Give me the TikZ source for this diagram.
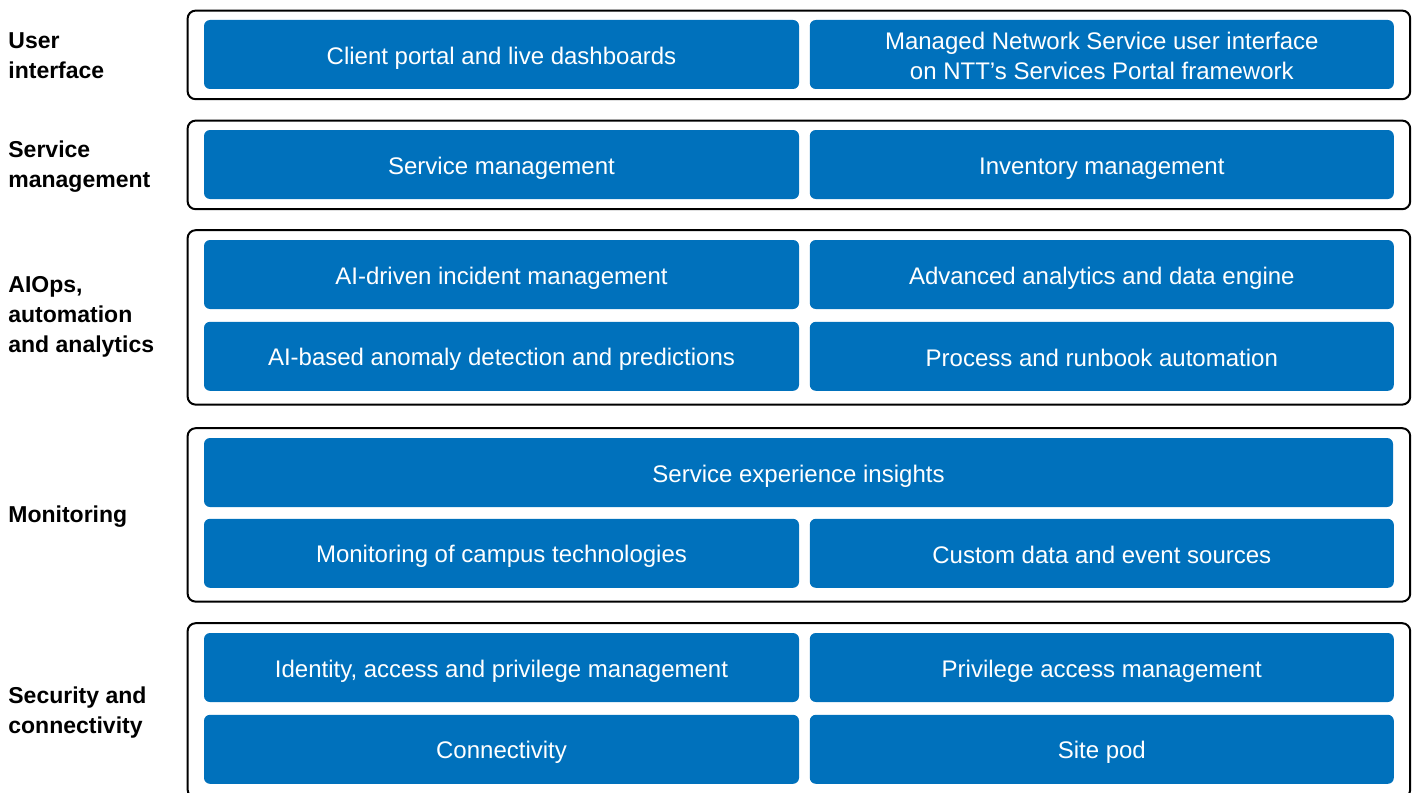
\documentclass[tikz,border=0pt]{standalone}
\usepackage{fontspec}
\setmainfont{Liberation Sans}
\usetikzlibrary{positioning,fit}
\definecolor{nttblue}{HTML}{0071BC}
\newcommand{\bstrut}{\rule[-2pt]{0pt}{14pt}}
\tikzset{
  blk/.style={fill=nttblue, text=white, rounded corners=3pt, align=center,
    minimum height=34.5pt, inner sep=0pt, font=\fontsize{12}{15}\selectfont,
    execute at begin node=\bstrut, execute at end node=\bstrut},
  blkl/.style={blk, minimum width=297.5pt},
  blkr/.style={blk, minimum width=292pt},
  blkw/.style={blk, minimum width=594.5pt},
  layer/.style={draw, line width=1pt, rounded corners=4pt, inner xsep=8pt, inner ysep=4.7pt, yshift=-0.2pt},
  layertwo/.style={layer, inner ysep=5.7pt, yshift=-0.8pt},
  lbl/.style={anchor=west, align=left, inner sep=0pt, font=\bfseries\fontsize{11.5}{15}\selectfont},
}
\begin{document}
\begin{tikzpicture}[x=0.5pt, y=-0.5pt]
  \useasboundingbox (0,0) rectangle (1412,792);
  \clip (0,0) rectangle (1412,792);

  % Nodes
  \node[blkl] (ui1) at (501.5,54.5) {Client portal and live dashboards};
  \node[blkr, right=5pt of ui1, text height=29.6pt, text depth=4.9pt] (ui2) {Managed Network Service user interface\\on NTT’s Services Portal framework};

  \node[blkl] (sm1) at (501.5,164.5) {Service management};
  \node[blkr, right=5pt of sm1] (sm2) {Inventory management};

  \node[blkl] (ai1) at (501.5,274.5) {AI-driven incident management};
  \node[blkr, right=5pt of ai1] (ai2) {Advanced analytics and data engine};
  \node[blkl, below=6pt of ai1] (ai3) {AI-based anomaly detection and predictions};
  \node[blkr, right=5pt of ai3] (ai4) {Process and runbook automation};

  \node[blkw] (mon1) at (798.5,472.5) {Service experience insights};
  \node[blkl, below=5.5pt of mon1.south west, anchor=north west] (mon2) {Monitoring of campus technologies};
  \node[blkr, right=5pt of mon2] (mon3) {Custom data and event sources};

  \node[blkl] (sec1) at (501.5,667.5) {Identity, access and privilege management};
  \node[blkr, right=5pt of sec1] (sec2) {Privilege access management};
  \node[blkl, below=6pt of sec1] (sec3) {Connectivity};
  \node[blkr, right=5pt of sec3] (sec4) {Site pod};

  % Layers
  \node[layer, fit=(ui1)(ui2)] (fui) {};
  \node[layer, fit=(sm1)(sm2)] (fsm) {};
  \node[layertwo, fit=(ai1)(ai4)] (fai) {};
  \node[layertwo, fit=(mon1)(mon3)] (fmon) {};
  \node[layertwo, fit=(sec1)(sec4)] (fsec) {};

  % Labels
  \node[lbl] (lui) at (8,56) {User\\interface};
  \node[lbl] (lsm) at (8,167) {Service\\management};
  \node[lbl] (lai) at (8,317) {AIOps,\\automation\\and analytics};
  \node[lbl] (lmon) at (8,517) {Monitoring};
  \node[lbl] (lsec) at (8,713) {Security and\\connectivity};

\end{tikzpicture}
\end{document}
